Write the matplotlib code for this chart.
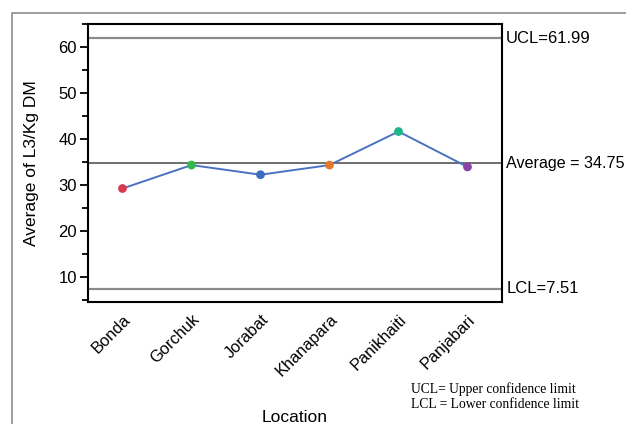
import matplotlib
matplotlib.use("Agg")
import matplotlib.pyplot as plt
from matplotlib.lines import Line2D

locations = ["Bonda", "Gorchuk", "Jorabat", "Khanapara", "Panikhaiti", "Panjabari"]
values = [29.3, 34.4, 32.3, 34.4, 41.7, 34.0]
point_colors = ["#d8394f", "#33b84a", "#3d6cc2", "#e07a2c", "#1db58c", "#8a43a8"]
ucl = 61.99
lcl = 7.51
average = 34.75
ucl_label = "UCL=61.99"
avg_label = "Average = 34.75"
lcl_label = "LCL=7.51"
note_lines = ["UCL= Upper confidence limit", "LCL = Lower confidence limit"]

plt.rcParams['font.family'] = ['Liberation Sans', 'DejaVu Sans']

fig = plt.figure(figsize=(6.26, 4.24), dpi=100)
ax = fig.add_axes([88/626, 1-302/424, (502-88)/626, (302-24)/424])

x = list(range(len(locations)))
ax.plot(x, values, color="#4a72c0", lw=1.4, zorder=3)
ax.scatter(x, values, color=point_colors, s=40, zorder=4, edgecolors='none')

for val, c, lw in [(ucl, "#8a8a8a", 1.6), (average, "#6e6e6e", 1.4), (lcl, "#8a8a8a", 1.6)]:
    ax.axhline(val, color=c, lw=lw, zorder=2)

ax.set_xlim(-0.5, len(locations) - 0.5)
ax.set_ylim(4.6, 65.1)
ax.set_yticks([10, 20, 30, 40, 50, 60])
ax.set_yticks([5, 15, 25, 35, 45, 55, 65], minor=True)
ax.tick_params(axis='y', which='major', length=6, width=1.3, labelsize=12, direction='out', pad=2)
ax.tick_params(axis='y', which='minor', length=4, width=1.3, direction='out')
ax.set_xticks(x)
ax.set_xticklabels(locations, rotation=45, ha='right', va='top', rotation_mode='anchor', fontsize=11.8)
ax.tick_params(axis='x', length=0, pad=7)
for sp in ax.spines.values():
    sp.set_linewidth(1.5)
    sp.set_color("black")

ax.set_ylabel("Average of L3/Kg DM", fontsize=12.5, labelpad=14)
ax.set_xlabel("Location", fontsize=12.5)
ax.xaxis.set_label_coords(0.5, -0.39)

trans = ax.get_yaxis_transform()
ax.text(1.01, ucl, ucl_label, transform=trans, fontsize=12, va='center', ha='left', clip_on=False)
ax.text(1.01, average, avg_label, transform=trans, fontsize=11.6, va='center', ha='left', clip_on=False)
ax.text(1.01, lcl, lcl_label, transform=trans, fontsize=12, va='center', ha='left', clip_on=False)

fig.text(411/626, 1-389/424, note_lines[0], family='Liberation Serif', fontsize=9.8, va='center', ha='left')
fig.text(411/626, 1-405/424, note_lines[1], family='Liberation Serif', fontsize=9.8, va='center', ha='left')

# outer frame (left and top edges)
fig.add_artist(Line2D([12/626, 12/626, 1.0], [0.0, 1-13/424, 1-13/424], transform=fig.transFigure, color="#8c8c8c", lw=1.2))

fig.savefig("out.png", dpi=100)
